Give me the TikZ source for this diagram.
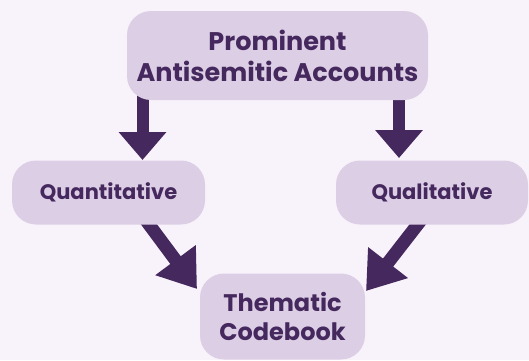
\documentclass[tikz,border=0pt]{standalone}
\usepackage{fontspec}
\setmainfont{Poppins}
\usetikzlibrary{arrows.meta}
\definecolor{bg}{HTML}{F8F3FA}
\definecolor{boxc}{HTML}{DCCFE5}
\definecolor{ink}{HTML}{45285D}
\tikzset{
  box/.style={fill=boxc, rounded corners=24pt, inner sep=0pt, align=center, text=ink},
  bigarrow/.style={draw=ink, line width=12pt, -{Triangle[width=46pt,length=28pt]}},
  diagarrow/.style={draw=ink, line width=13pt, -{Triangle[width=48pt,length=36pt]}},
}
\begin{document}
\begin{tikzpicture}[x=1pt,y=1pt]
\useasboundingbox (0,0) rectangle (529,-360);
\fill[bg] (0,0) rectangle (529,-360);
\clip (0,0) rectangle (529,-360);
% arrows first (behind boxes)
\coordinate (tl) at (142.5,-90);
\coordinate (tr) at (399,-90);
\coordinate (ql) at (142,-215);
\coordinate (qr) at (425,-215);
\coordinate (hl) at (197,-289);
\coordinate (hr) at (366,-291);
\coordinate (bl) at (142.5,-160);
\coordinate (br) at (399,-158);
\draw[bigarrow] (tl) -- (bl);
\draw[bigarrow] (tr) -- (br);
\draw[diagarrow] (ql) -- (hl);
\draw[diagarrow] (qr) -- (hr);
% boxes
\node[box, minimum width=301pt, minimum height=89pt,
      font=\bfseries\fontsize{25.5}{31}\selectfont] (top) at (277.5,-55.5)
  {Prominent\\Antisemitic Accounts};
\node[box, minimum width=193pt, minimum height=64pt,
      font=\bfseries\fontsize{21}{24}\selectfont] (quant) at (108.5,-192.5)
  {Quantitative};
\node[box, minimum width=192pt, minimum height=64pt,
      font=\bfseries\fontsize{21}{24}\selectfont] (qual) at (432,-192.5)
  {Qualitative};
\node[box, minimum width=165pt, minimum height=86pt,
      font=\bfseries\fontsize{24}{29}\selectfont] (them) at (282.5,-316.5)
  {Thematic\\Codebook};
\end{tikzpicture}
\end{document}
